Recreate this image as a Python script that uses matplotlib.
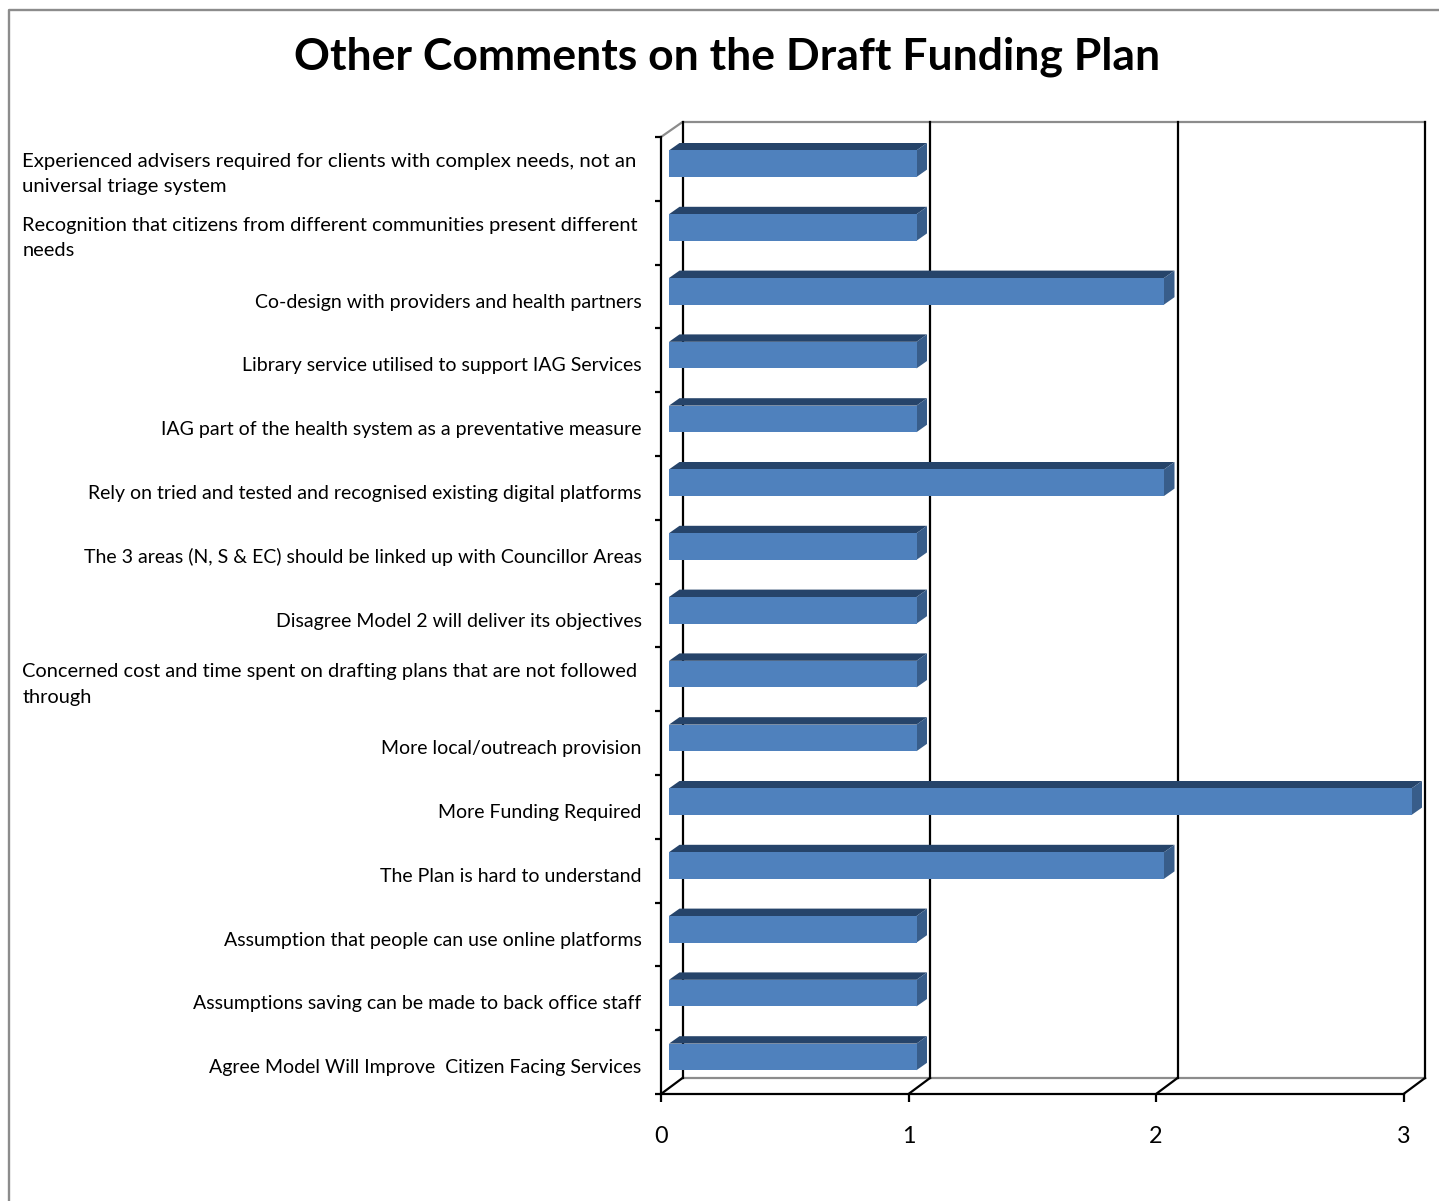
import matplotlib
matplotlib.use("Agg")
import matplotlib.pyplot as plt
from matplotlib.lines import Line2D
from matplotlib.patches import Polygon
from matplotlib.transforms import blended_transform_factory

categories = [
    "Experienced advisers required for clients with complex needs, not an\nuniversal triage system",
    "Recognition that citizens from different communities present different\nneeds",
    "Co-design with providers and health partners",
    "Library service utilised to support IAG Services",
    "IAG part of the health system as a preventative measure",
    "Rely on tried and tested and recognised existing digital platforms",
    "The 3 areas (N, S & EC) should be linked up with Councillor Areas",
    "Disagree Model 2 will deliver its objectives",
    "Concerned cost and time spent on drafting plans that are not followed\nthrough",
    "More local/outreach provision",
    "More Funding Required",
    "The Plan is hard to understand",
    "Assumption that people can use online platforms",
    "Assumptions saving can be made to back office staff",
    "Agree Model Will Improve  Citizen Facing Services",
]
values = [1, 1, 2, 1, 1, 2, 1, 1, 1, 1, 3, 2, 1, 1, 1]
x_ticks = [0, 1, 2, 3]
title = "Other Comments on the Draft Funding Plan"

W, H = 1439, 1201
plt.rcParams["font.family"] = ["Lato", "DejaVu Sans"]
fig = plt.figure(figsize=(W / 100, H / 100), dpi=100, facecolor="white")
L, R, T, B = 661, 1403.5, 137, 1094
ax = fig.add_axes([L / W, 1 - B / H, (R - L) / W, (B - T) / H])
n = len(categories)
ax.set_xlim(0, 3)
ax.set_ylim(n - 0.5, -0.5)

px = 3 / (R - L)          # data units per pixel, x
py = n / (B - T)          # data units per pixel, y
dx, dy_top, dy_bottom = 21.5 * px, 15 * py, 16 * py

# back wall and floor
GREY = "#8c8c8c"
LW = 1.6
ax.plot([0, dx, 3 + dx], [-0.5, -0.5 - dy_top, -0.5 - dy_top], color=GREY, lw=LW, clip_on=False, zorder=1)
ax.plot([dx, 3 + dx], [n - 0.5 - dy_bottom] * 2, color=GREY, lw=LW, clip_on=False, zorder=1)
for v in x_ticks:
    ax.plot([v + dx] * 2, [-0.5 - dy_top, n - 0.5 - dy_bottom], color="black", lw=LW, clip_on=False, zorder=1.5)
    ax.plot([v, v + dx], [n - 0.5, n - 0.5 - dy_bottom], color="black", lw=LW, clip_on=False, zorder=1.5)

# 3-D bars
FRONT, TOP, SIDE = "#4f81bd", "#26446a", "#385d8a"
bx, by = 8 * px, 5.2 * py       # bar placement within the depth
tx, ty = 10.5 * px, 7.4 * py    # bar depth
bh = 26.6 * py
pos = list(range(n))
for i, v in zip(pos, values):
    yc = i - by
    y0, y1 = yc - bh / 2, yc + bh / 2
    ax.add_patch(Polygon([(bx, y0), (bx + v, y0), (bx + v + tx, y0 - ty), (bx + tx, y0 - ty)],
                         fc=TOP, ec="none", clip_on=False, zorder=3))
    ax.add_patch(Polygon([(bx + v, y0), (bx + v + tx, y0 - ty), (bx + v + tx, y1 - ty), (bx + v, y1)],
                         fc=SIDE, ec="none", clip_on=False, zorder=3))
ax.barh([p - by for p in pos], values, height=bh, left=bx, color=FRONT, zorder=4, clip_on=False)

# axes
for s in ("top", "right"):
    ax.spines[s].set_visible(False)
for s in ("left", "bottom"):
    ax.spines[s].set_linewidth(LW)
    ax.spines[s].set_zorder(2)
ax.set_xticks(x_ticks)
ax.set_xticklabels([str(v) for v in x_ticks], fontsize=16.8)
ax.tick_params(axis="x", length=5.8, width=LW, pad=17.5)
ax.set_yticks([i - 0.5 for i in range(n + 1)])
ax.set_yticklabels([])
ax.tick_params(axis="y", which="major", length=4.3, width=LW)

# category labels: single lines right-aligned, wrapped ones fill the label column
LABEL = 14.05
SPACING = 1.66
trans = blended_transform_factory(fig.transFigure, ax.transData)
renderer = fig.canvas.get_renderer()
for i, c in enumerate(categories):
    if "\n" in c:
        t = ax.text(22.5 / W, i + 5.3 * py, c, transform=trans, ha="left", va="center",
                    fontsize=LABEL, linespacing=SPACING, color="black")
        width = t.get_window_extent(renderer).width
        size = LABEL * 614 / width
        t.set_fontsize(size)
        t.set_linespacing(SPACING * LABEL / size)
    else:
        ax.text(641.5 / W, i + 5.5 * py, c, transform=trans, ha="right", va="center",
                fontsize=LABEL, color="black")

fig.text(727 / W, 1 - 56.5 / H, title, ha="center", va="center", fontsize=32, fontweight="bold", color="black")

# outer chart frame
fig.add_artist(Line2D([9 / W, 9 / W, 1], [0, 1 - 10 / H, 1 - 10 / H], color=GREY, lw=1.7, transform=fig.transFigure))

fig.savefig("out.png", dpi=100, facecolor="white")
